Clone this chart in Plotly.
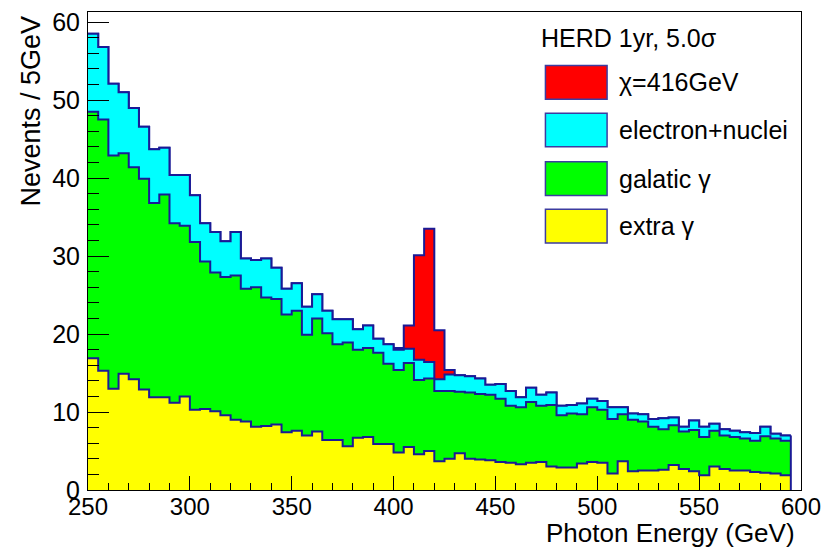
import numpy as np
import plotly.graph_objects as go

# ---------------- data (Nevents per 5 GeV bin) ----------------
bin_width = 5
bin_lo = list(range(250, 595, bin_width))  # 69 bins: 250 ... 590

extra_gamma = [16.9, 15.3, 13.0, 14.9, 14.2, 12.9, 11.9, 11.9, 11.2, 12.0,
               10.3, 10.4, 10.1, 9.6, 9.0, 8.8, 8.1, 8.2, 8.4, 7.4,
               7.6, 7.0, 7.5, 6.4, 6.4, 5.6, 6.7, 6.8, 5.9, 5.9,
               4.8, 5.5, 4.6, 5.0, 3.7, 4.0, 4.7, 4.0, 3.9, 3.8,
               3.6, 3.5, 3.3, 3.5, 3.6, 3.0, 2.9, 2.9, 3.4, 3.6,
               3.5, 2.1, 3.7, 2.4, 2.5, 2.5, 2.6, 3.2, 2.7, 2.4,
               1.9, 3.0, 2.7, 2.5, 2.5, 2.3, 2.2, 2.1, 1.9]

galactic_gamma = [31.6, 32.2, 29.9, 28.3, 27.2, 27.0, 24.9, 26.0, 23.0, 21.9,
                  21.5, 18.9, 17.8, 17.7, 18.5, 17.0, 17.9, 16.5, 16.1, 15.1,
                  15.4, 12.9, 14.5, 13.7, 12.3, 13.3, 11.3, 11.4, 11.7, 10.3,
                  10.6, 10.8, 9.5, 9.3, 9.0, 8.7, 7.9, 8.5, 8.4, 8.4,
                  8.1, 7.3, 7.3, 7.8, 7.2, 7.9, 6.7, 6.9, 6.3, 7.0,
                  6.8, 7.0, 6.0, 6.6, 6.3, 5.6, 5.2, 5.1, 4.8, 5.3,
                  4.9, 4.6, 4.3, 4.3, 4.1, 4.0, 4.7, 4.5, 4.4]

electron_nuclei = [10.0, 9.3, 9.2, 7.8, 7.6, 6.7, 6.9, 6.0, 6.2, 6.5,
                   6.0, 4.9, 5.2, 4.6, 5.6, 3.9, 3.5, 5.0, 4.0, 3.3,
                   3.5, 3.6, 3.1, 2.9, 3.2, 3.0, 2.6, 2.9, 1.8, 2.5,
                   2.6, 1.8, 2.6, 2.1, 1.5, 2.1, 2.1, 2.1, 2.0, 1.3,
                   1.9, 1.9, 1.3, 1.8, 1.4, 1.6, 1.2, 1.1, 1.4, 1.1,
                   1.1, 1.5, 0.9, 0.8, 0.9, 1.0, 1.4, 1.0, 0.6, 1.2,
                   1.3, 0.9, 0.8, 0.8, 0.8, 1.0, 1.2, 0.6, 0.7]

signal = [0.0] * 30 + [0.2, 3.0, 13.4, 17.1, 6.3, 0.6] + [0.0] * 33

components = [  # name, values, fill colour  (bottom -> top)
    ("extra \u03b3", extra_gamma, "#ffff00"),
    ("galatic \u03b3", galactic_gamma, "#00ff00"),
    ("electron+nuclei", electron_nuclei, "#00ffff"),
    ("\u03c7=416GeV", signal, "#ff0000"),
]

OUTLINE = "#1a1a96"
FONT = "Liberation Sans, Arial, Helvetica, sans-serif"

edges = np.array(bin_lo + [bin_lo[-1] + bin_width], dtype=float)
cum = np.zeros(len(bin_lo))
stack_tops = []
for name, vals, col in components:
    cum = cum + np.array(vals)
    stack_tops.append((name, cum.copy(), col))

fig = go.Figure()
# draw from the top of the stack downward so lower layers overlay
for name, top, col in reversed(stack_tops):
    y = np.append(top, top[-1])
    fig.add_trace(go.Scatter(x=edges, y=y, mode="lines", line_shape="hv",
                             line=dict(color=OUTLINE, width=2),
                             fill="tozeroy", fillcolor=col, name=name,
                             showlegend=False, hoverinfo="skip"))
# closing vertical edge of the histogram at its last bin edge
total = stack_tops[-1][1]
fig.add_trace(go.Scatter(x=[edges[-1], edges[-1]], y=[0, total[-1]], mode="lines",
                         line=dict(color=OUTLINE, width=2), showlegend=False,
                         hoverinfo="skip"))

# ---------------- layout ----------------
W, H = 829, 548
L, R, T, B = 88, 805, 8, 490


def px(x):
    return (x - L) / (R - L)


def py(y):
    return (B - y) / (B - T)


fig.update_layout(
    width=W, height=H,
    margin=dict(l=L, r=W - R, t=T, b=H - B, pad=0),
    paper_bgcolor="white", plot_bgcolor="white",
    font=dict(family=FONT, size=25, color="black"),
    showlegend=False,
)
fig.update_xaxes(range=[250, 600], tick0=250, dtick=50, ticks="inside", ticklen=14,
                 tickcolor="black", tickwidth=1, showgrid=False, zeroline=False,
                 showline=True, linecolor="black", linewidth=1, mirror=True,
                 tickfont=dict(size=24), ticklabelstandoff=-5,
                 minor=dict(dtick=10, ticks="inside", ticklen=7, tickcolor="black",
                            showgrid=False))
fig.update_yaxes(range=[0, 61.3], tick0=0, dtick=10, ticks="inside", ticklen=21,
                 tickcolor="black", tickwidth=1, showgrid=False, zeroline=False,
                 showline=True, linecolor="black", linewidth=1, mirror=True,
                 tickfont=dict(size=25), ticklabelstandoff=2,
                 minor=dict(dtick=2, ticks="inside", ticklen=11, tickcolor="black",
                            showgrid=False))

annotations = [
    dict(text="Photon Energy (GeV)", x=px(801), y=py(533), xref="paper", yref="paper",
         xanchor="right", yanchor="middle", showarrow=False, font=dict(size=26)),
    dict(text="Nevents / 5GeV", x=px(31), y=py(108), xref="paper", yref="paper",
         xanchor="center", yanchor="middle", textangle=-90, showarrow=False,
         font=dict(size=27)),
    dict(text="HERD 1yr, 5.0\u03c3", x=px(542), y=py(34), xref="paper", yref="paper",
         xanchor="left", yanchor="middle", showarrow=False, font=dict(size=25)),
]
shapes = []
legend_rows = [(62, 96), (110, 144), (159, 193), (207, 241)]
for (name, top, col), (y0, y1) in zip(reversed(stack_tops), legend_rows):
    shapes.append(dict(type="rect", xref="paper", yref="paper",
                       x0=px(548), x1=px(610), y0=py(y1), y1=py(y0),
                       fillcolor=col, line=dict(color="#3c3ca0", width=1.5)))
    annotations.append(dict(text=name, x=px(620), y=py((y0 + y1) / 2), xref="paper",
                            yref="paper", xanchor="left", yanchor="middle",
                            showarrow=False, font=dict(size=25)))
fig.update_layout(annotations=annotations, shapes=shapes)

fig.write_html("out.html")
